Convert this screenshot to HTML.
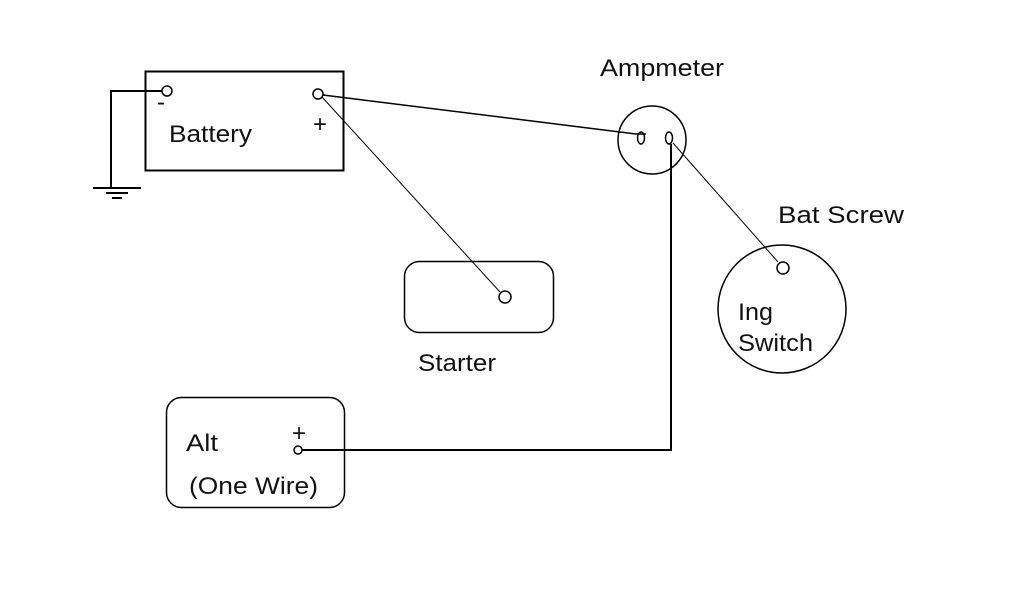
<!DOCTYPE html>
<html><head><meta charset="utf-8"><style>
html,body{margin:0;padding:0;background:#fff;}
svg{display:block}
text{font-family:"Liberation Sans",sans-serif;font-size:24px;fill:#111}
</style></head><body>
<svg width="1024" height="600" viewBox="0 0 1024 600" xmlns="http://www.w3.org/2000/svg">
<g fill="none" stroke="#000">
<rect x="145.5" y="71.5" width="198" height="99" stroke-width="2"/>
<path d="M162 91H111V188" stroke-width="2"/>
<path d="M93 188H141M106 193H128M112 198H122" stroke-width="2"/>
<circle cx="167" cy="91" r="5" stroke-width="1.5"/>
<circle cx="318" cy="94" r="5" stroke-width="1.5"/>
<path d="M323 95L636 134" stroke-width="1.5"/>
<path d="M322 97L500 292" stroke-width="1"/>
<rect x="404.5" y="261.5" width="149" height="71" rx="15" stroke-width="1.5"/>
<circle cx="505" cy="297" r="6" stroke-width="1.5"/>
<circle cx="652" cy="140" r="34" stroke-width="1.5"/>
<ellipse cx="641" cy="138" rx="3.5" ry="6" stroke-width="1.5"/>
<path d="M636 134H646" stroke-width="1.5"/>
<ellipse cx="669" cy="138" rx="3.5" ry="6" stroke-width="1.5"/>
<path d="M671 144V450H302" stroke-width="2"/>
<path d="M673 143L778 262" stroke-width="1"/>
<circle cx="782" cy="309" r="64" stroke-width="1.5"/>
<circle cx="783" cy="268" r="6" stroke-width="1.5"/>
<rect x="166.5" y="397.5" width="178" height="110" rx="15" stroke-width="1.5"/>
<circle cx="298" cy="450" r="4" stroke-width="1.5"/>
</g>
<text x="157" y="110" font-size="18">-</text>
<text x="313" y="132" font-size="16">+</text>
<text x="169" y="142" textLength="83" lengthAdjust="spacingAndGlyphs">Battery</text>
<text x="600" y="76" textLength="124" lengthAdjust="spacingAndGlyphs">Ampmeter</text>
<text x="778" y="223" textLength="126" lengthAdjust="spacingAndGlyphs">Bat Screw</text>
<text x="738" y="320" textLength="35" lengthAdjust="spacingAndGlyphs">Ing</text>
<text x="738" y="351" textLength="75" lengthAdjust="spacingAndGlyphs">Switch</text>
<text x="418" y="371" textLength="78" lengthAdjust="spacingAndGlyphs">Starter</text>
<text x="186" y="451" textLength="32" lengthAdjust="spacingAndGlyphs">Alt</text>
<text x="292" y="441" font-size="16">+</text>
<text x="189" y="494" textLength="129" lengthAdjust="spacingAndGlyphs">(One Wire)</text>
</svg>
</body></html>
